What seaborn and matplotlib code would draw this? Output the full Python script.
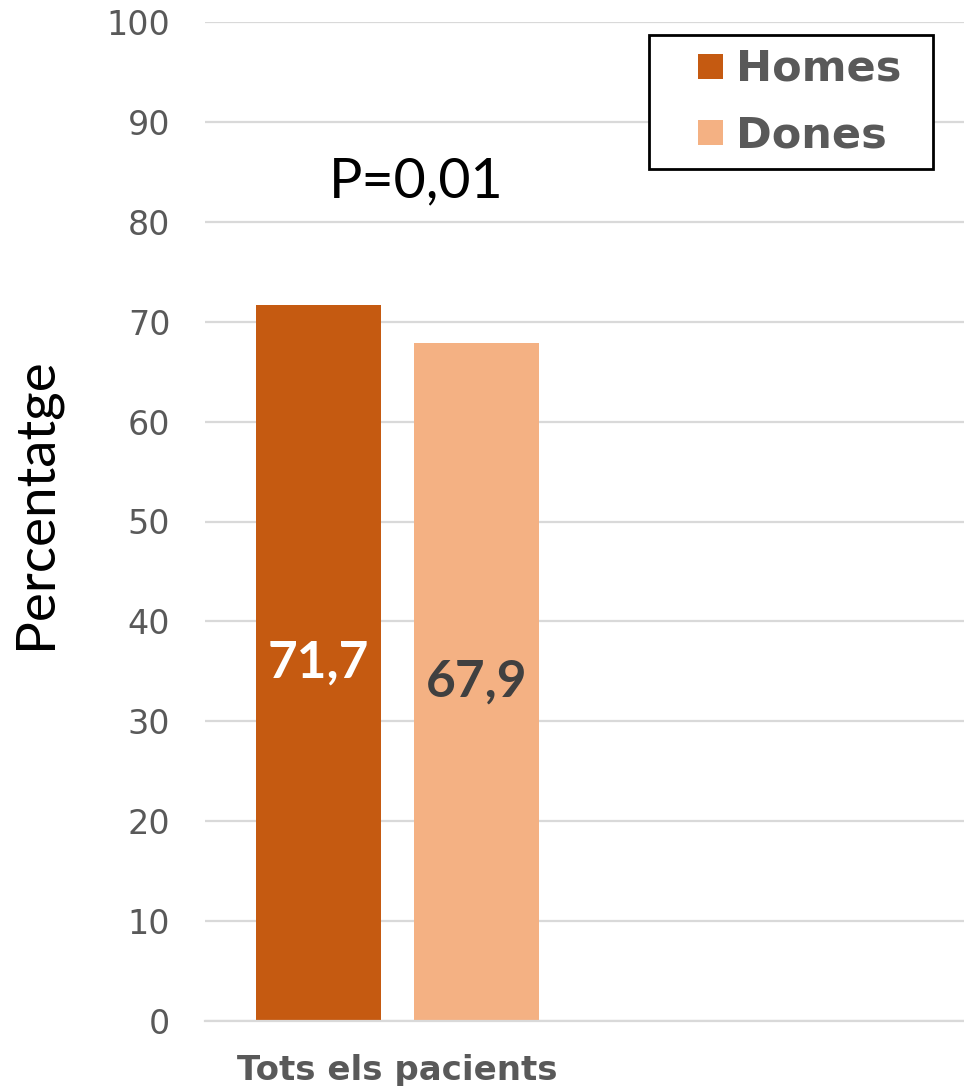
import matplotlib
matplotlib.use("Agg")
import matplotlib.pyplot as plt
import seaborn as sns
import pandas as pd
from matplotlib.lines import Line2D

# ---- data ----
categories = ["Tots els pacients"]
sexes = ["Homes", "Dones"]
values = [71.7, 67.9]
value_labels = ["71,7", "67,9"]
value_label_colors = ["white", "#404040"]
yticks = [0, 10, 20, 30, 40, 50, 60, 70, 80, 90, 100]
pvalue_text = "P=0,01"
ylabel = "Percentatge"

colors = {"Homes": "#C55A11", "Dones": "#F4B183"}

df = pd.DataFrame({"grup": categories * len(sexes), "sexe": sexes, "pct": values})

sns.set_theme(style="white")
plt.rcParams["font.family"] = ["DejaVu Sans"]

W, H = 964, 1086
fig = plt.figure(figsize=(W / 100, H / 100), dpi=100)
ax = fig.add_axes([205 / W, 1 - 1021 / H, 759 / W, 999 / H])

sns.barplot(data=df, x="grup", y="pct", hue="sexe", hue_order=sexes,
            palette=colors, width=0.8216, gap=0.211, saturation=1,
            linewidth=0, ax=ax, legend=False, errorbar=None)

ax.set_xlim(-0.5, 1.473)
ax.set_ylim(0, 100)
ax.set_yticks(yticks)
ax.set_yticklabels([str(t) for t in yticks])
ax.yaxis.grid(True, color="#D9D9D9", linewidth=1.6)
ax.xaxis.grid(False)
ax.set_axisbelow(True)
for s in ["top", "right", "left"]:
    ax.spines[s].set_visible(False)
ax.spines["bottom"].set_color("#D9D9D9")
ax.spines["bottom"].set_linewidth(1.6)

ax.tick_params(axis="y", length=0, pad=25, labelsize=24, labelcolor="#595959")
ax.tick_params(axis="x", length=0, pad=24, labelsize=24.5, labelcolor="#595959")
for lab in ax.get_xticklabels():
    lab.set_fontweight("bold")

ax.set_xlabel("")
ax.set_ylabel(ylabel, fontsize=39.5, family=["Lato", "DejaVu Sans"], color="black")
ax.yaxis.set_label_coords(-0.191, 0.518)

# value labels
for cont, lbl, col in zip(ax.containers, value_labels, value_label_colors):
    ax.bar_label(cont, labels=[lbl], label_type="center", color=col,
                 fontsize=37, fontweight="bold", family=["Lato", "DejaVu Sans"])

ax.text(0.049, 84.0, pvalue_text, ha="center", va="center", fontsize=40,
        family=["Lato", "DejaVu Sans"], color="black")

handles = [Line2D([], [], marker="s", linestyle="none", markersize=18,
                  markerfacecolor=colors[s], markeredgewidth=0, label=s) for s in sexes]
leg = fig.legend(handles=handles, loc="upper left", mode="expand",
                 bbox_to_anchor=(649 / W, 1 - 167 / H, 284 / W, 132 / H),
                 frameon=True, fancybox=False, edgecolor="black",
                 prop=dict(family="DejaVu Sans", weight="bold", size=31),
                 labelcolor="#595959", handlelength=2.24, handleheight=0.7,
                 handletextpad=-0.51, borderpad=0.3, labelspacing=0.56,
                 borderaxespad=0)
leg.get_frame().set_linewidth(2)
leg.get_frame().set_alpha(1)

fig.savefig("out.png", dpi=100)
